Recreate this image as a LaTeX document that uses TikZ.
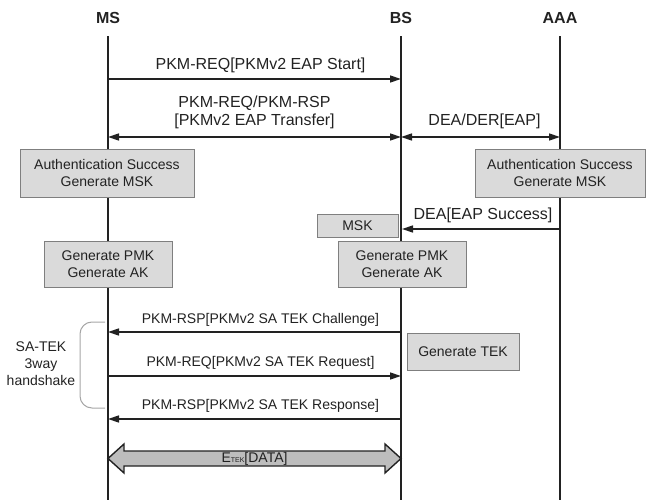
\documentclass[tikz,border=0pt]{standalone}
\usepackage{fontspec}
\setmainfont{Liberation Sans}
\usetikzlibrary{arrows.meta, positioning, calc}
\definecolor{boxgray}{HTML}{DADADA}
\definecolor{edgegray}{HTML}{7F7F7F}
\definecolor{inkgray}{HTML}{222222}
\definecolor{bracegray}{HTML}{A6A6A6}
\definecolor{datagray}{HTML}{BDBDBD}

\begin{document}
\begin{tikzpicture}[x=1pt, y=-1pt, >={Triangle[length=11pt, width=7pt]},
  lifeline/.style={inkgray, line width=1.6pt},
  msg/.style={inkgray, line width=1.4pt},
  lbl/.style={font=\fontsize{14}{15}\selectfont, text=inkgray, inner sep=1pt, align=center},
  biglbl/.style={lbl, font=\fontsize{16}{18}\selectfont},
  procbox/.style={draw=edgegray, fill=boxgray, line width=0.8pt, font=\fontsize{14}{17}\selectfont,
                  text=inkgray, align=center, inner sep=0pt},
  entity/.style={font=\fontsize{16}{18}\selectfont\bfseries, text=inkgray, minimum height=36pt, inner sep=0pt}]

% Canvas
\useasboundingbox (0,0) rectangle (646,500);

% Entities
\node[entity] (ms) at (108,18) {MS};
\node[entity] (bs) at (401,18) {BS};
\node[entity] (aaa) at (560,18) {AAA};

% Lifelines
\coordinate (msEnd) at (108,500);
\coordinate (bsEnd) at (401,500);
\coordinate (aaaEnd) at (560,500);
\draw[lifeline] (ms.south) -- (msEnd);
\draw[lifeline] (bs.south) -- (bsEnd);
\draw[lifeline] (aaa.south) -- (aaaEnd);

% EAP start
\coordinate (ms1) at (108,79);
\coordinate (bs1) at (401,79);
\draw[msg, ->] (ms1) -- (bs1) node[biglbl, midway, above=4pt, xshift=6pt] {PKM-REQ[PKMv2 EAP Start]};

% EAP transfer
\coordinate (ms2) at (108,137);
\coordinate (bs2) at (401,137);
\coordinate (aaa2) at (560,137);
\draw[msg, <->] (ms2) -- (bs2) node[biglbl, midway, above=6pt] {PKM-REQ/PKM-RSP\\{}[PKMv2 EAP Transfer]};
\draw[msg, <->] (bs2) -- (aaa2) node[biglbl, midway, above=6pt, xshift=4pt] {DEA/DER[EAP]};

% Authentication results
\node[procbox, minimum width=174pt, minimum height=48pt] (authMS) at (107,173) {Authentication Success\\Generate MSK};
\node[procbox, minimum width=170pt, minimum height=48pt] (authAAA) at (560,173) {Authentication Success\\Generate MSK};

% MSK delivery
\coordinate (aaa3) at (560,229);
\coordinate (bs3) at (402,229);
\draw[msg, ->] (aaa3) -- (bs3) node[biglbl, midway, above=4.5pt, xshift=2pt] {DEA[EAP Success]};
\node[procbox, minimum width=81pt, minimum height=23pt] (msk) at (357.5,225.5) {MSK};

% Key derivation
\node[procbox, minimum width=128pt, minimum height=46pt] (pmkMS) at (108,264) {Generate PMK\\Generate AK};
\node[procbox, minimum width=128pt, minimum height=46pt] (pmkBS) at (402,264) {Generate PMK\\Generate AK};

% SA-TEK 3-way handshake
\coordinate (bs4) at (401,332);
\coordinate (ms4) at (108,332);
\draw[msg, ->] (bs4) -- (ms4) node[lbl, midway, above=4pt, xshift=6pt] {PKM-RSP[PKMv2 SA TEK Challenge]};
\coordinate (ms5) at (108,376);
\coordinate (bs5) at (401,376);
\draw[msg, ->] (ms5) -- (bs5) node[lbl, midway, above=5pt, xshift=6pt] {PKM-REQ[PKMv2 SA TEK Request]};
\coordinate (bs6) at (401,419);
\coordinate (ms6) at (108,419);
\draw[msg, ->] (bs6) -- (ms6) node[lbl, midway, above=5pt, xshift=6pt] {PKM-RSP[PKMv2 SA TEK Response]};
\node[procbox, minimum width=112pt, minimum height=37pt] (tek) at (463,351.5) {Generate TEK};

% Bracket
\coordinate (braceTop) at (105,322);
\coordinate (braceBot) at (105,408);
\draw[bracegray, line width=1pt, rounded corners=12pt] (braceTop) -- (80,322) -- (80,408) -- (braceBot);
\node[lbl, font=\fontsize{14}{17}\selectfont] (satek) at (41,364) {SA-TEK\\3way\\handshake};

% Encrypted data
\coordinate (dataL) at (108,458.5);
\coordinate (dataR) at (401,458.5);
\filldraw[fill=datagray, draw=inkgray, line width=1.4pt]
  (dataL) -- ++(16,-14.5) -- ++(0,7) -- ($(dataR)+(-16,-7.5)$) -- ++(0,-7) -- (dataR)
  -- ++(-16,14.5) -- ++(0,-7) -- ($(dataL)+(16,7.5)$) -- ++(0,7) -- cycle;
\node[lbl] (data) at ($(dataL)!0.5!(dataR)$) {E{\fontsize{7}{8}\selectfont TEK}[DATA]};

\end{tikzpicture}
\end{document}
